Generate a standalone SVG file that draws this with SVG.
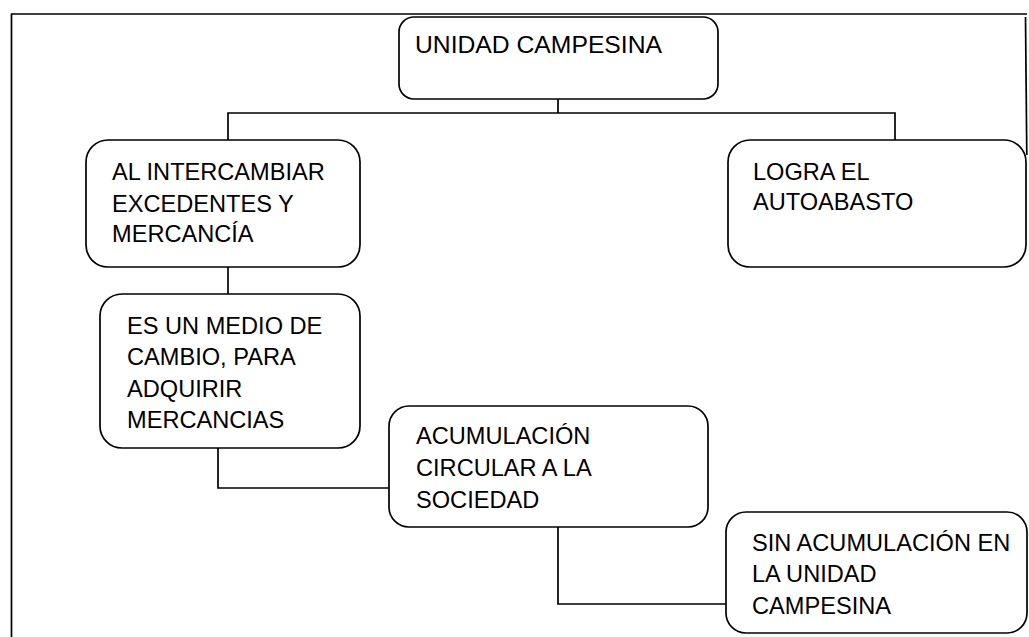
<svg xmlns="http://www.w3.org/2000/svg" width="1029" height="637" viewBox="0 0 1029 637">
<style>
.box{fill:#fff;stroke:#000;stroke-width:1.7}
.ln{fill:none;stroke:#000;stroke-width:1.7}
text{font-family:"Liberation Sans",Arial,sans-serif;font-size:23.6px;fill:#000}
</style>
<rect width="1029" height="637" fill="#fff"/>
<g id="frame">
<path class="ln" d="M11.5,637 V14 H1027"/>
<path class="ln" d="M1025.5,17 L1026.8,155"/>
</g>
<g id="connectors">
<path class="ln" d="M558,99 V113 M228,141 V113 H895 V141"/>
<path class="ln" d="M228,267 V294"/>
<path class="ln" d="M218,448 V488 H390"/>
<path class="ln" d="M558,527 V604 H727"/>
</g>
<g id="n-unidad">
<rect class="box" x="399" y="17" width="319" height="82" rx="15"/>
<text x="415" y="53" textLength="247" lengthAdjust="spacingAndGlyphs">UNIDAD CAMPESINA</text>
</g>
<g id="n-intercambiar">
<rect class="box" x="86" y="140" width="274" height="127" rx="22"/>
<text x="112" y="180">AL INTERCAMBIAR</text>
<text x="112" y="212">EXCEDENTES Y</text>
<text x="112" y="242">MERCANCÍA</text>
</g>
<g id="n-logra">
<rect class="box" x="728" y="140" width="298" height="127" rx="22"/>
<text x="753" y="180">LOGRA EL</text>
<text x="753" y="210">AUTOABASTO</text>
</g>
<g id="n-medio">
<rect class="box" x="100" y="294" width="260" height="154" rx="22"/>
<text x="127" y="334">ES UN MEDIO DE</text>
<text x="127" y="365">CAMBIO, PARA</text>
<text x="127" y="397">ADQUIRIR</text>
<text x="127" y="428">MERCANCIAS</text>
</g>
<g id="n-acumulacion">
<rect class="box" x="389" y="406" width="319" height="121" rx="20"/>
<text x="416" y="444">ACUMULACIÓN</text>
<text x="416" y="476">CIRCULAR A LA</text>
<text x="416" y="508">SOCIEDAD</text>
</g>
<g id="n-sin">
<rect class="box" x="726" y="512" width="301" height="121" rx="20"/>
<text x="752" y="551">SIN ACUMULACIÓN EN</text>
<text x="752" y="582">LA UNIDAD</text>
<text x="752" y="614">CAMPESINA</text>
</g>
</svg>
